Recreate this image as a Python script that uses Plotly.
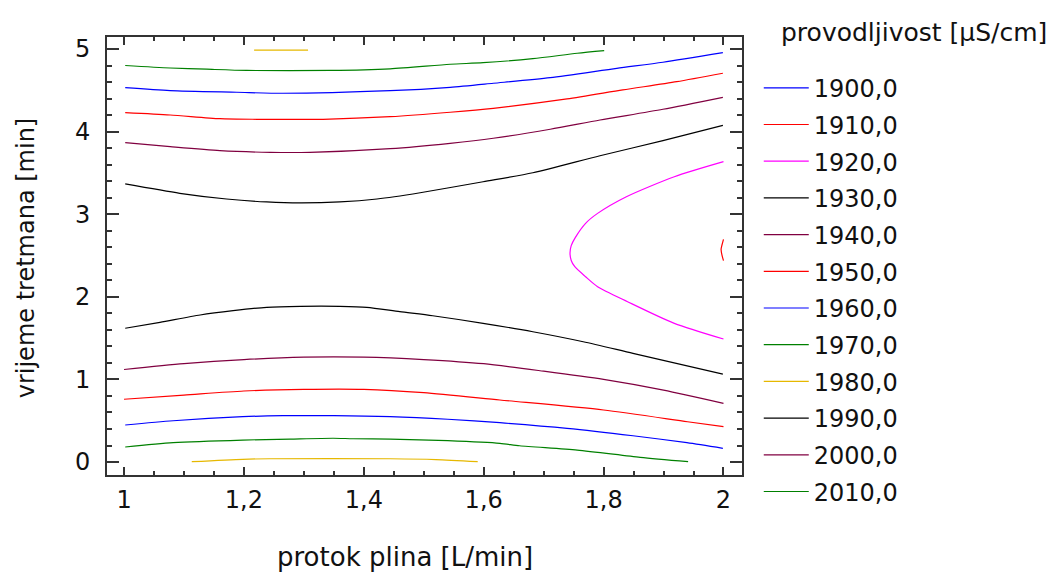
import plotly.graph_objects as go

# contour levels and colours (legend)
levels = [1900, 1910, 1920, 1930, 1940, 1950, 1960, 1970, 1980, 1990, 2000, 2010]
level_colors = ["#0000FF", "#FF0000", "#FF00FF", "#000000", "#800040", "#FF0000",
                "#0000FF", "#008000", "#E6B800", "#000000", "#800040", "#008000"]

# contour line segments: (x = protok plina, y = vrijeme tretmana)
c1910_x = [2.000, 1.9975, 1.996, 1.9975, 2.000]
c1910_y = [2.696, 2.627, 2.575, 2.506, 2.437]

c1920_x = [2.000, 1.918, 1.838, 1.790, 1.770, 1.753, 1.746, 1.744, 1.746, 1.752, 1.770, 1.790, 1.840, 1.918, 2.000]
c1920_y = [3.636, 3.454, 3.212, 3.010, 2.890, 2.720, 2.620, 2.530, 2.440, 2.364, 2.243, 2.122, 1.941, 1.679, 1.489]

c1930_up_x = [1.002, 1.093, 1.171, 1.238, 1.294, 1.360, 1.422, 1.494, 1.599, 1.682, 1.794, 1.899, 1.999]
c1930_up_y = [3.366, 3.253, 3.184, 3.148, 3.136, 3.148, 3.184, 3.260, 3.393, 3.502, 3.708, 3.890, 4.076]
c1930_lo_x = [1.002, 1.060, 1.127, 1.182, 1.238, 1.294, 1.360, 1.405, 1.460, 1.515, 1.599, 1.682, 1.766, 1.849, 1.999]
c1930_lo_y = [1.619, 1.691, 1.780, 1.832, 1.873, 1.885, 1.885, 1.873, 1.820, 1.771, 1.679, 1.577, 1.456, 1.316, 1.065]

c1940_up_x = [1.002, 1.077, 1.160, 1.244, 1.310, 1.444, 1.544, 1.616, 1.711, 1.794, 1.899, 1.999]
c1940_up_y = [3.866, 3.817, 3.769, 3.749, 3.749, 3.793, 3.858, 3.919, 4.028, 4.140, 4.270, 4.415]
c1940_lo_x = [1.000, 1.100, 1.200, 1.300, 1.400, 1.500, 1.600, 1.700, 1.800, 1.900, 2.000]
c1940_lo_y = [1.120, 1.190, 1.240, 1.270, 1.270, 1.240, 1.190, 1.100, 1.000, 0.870, 0.710]

c1950_up_x = [1.002, 1.077, 1.160, 1.221, 1.332, 1.444, 1.544, 1.616, 1.739, 1.832, 1.922, 1.999]
c1950_up_y = [4.229, 4.201, 4.156, 4.149, 4.149, 4.180, 4.234, 4.282, 4.395, 4.504, 4.604, 4.706]
c1950_lo_x = [1.000, 1.100, 1.200, 1.300, 1.400, 1.500, 1.627, 1.800, 1.940, 2.000]
c1950_lo_y = [0.760, 0.810, 0.860, 0.880, 0.880, 0.840, 0.751, 0.630, 0.488, 0.428]

c1960_up_x = [1.002, 1.077, 1.188, 1.265, 1.444, 1.544, 1.616, 1.711, 1.822, 1.899, 1.999]
c1960_up_y = [4.531, 4.495, 4.476, 4.464, 4.495, 4.536, 4.585, 4.653, 4.766, 4.839, 4.955]
c1960_lo_x = [1.002, 1.082, 1.198, 1.265, 1.350, 1.444, 1.540, 1.627, 1.739, 1.849, 1.939, 1.999]
c1960_lo_y = [0.448, 0.500, 0.549, 0.561, 0.562, 0.550, 0.518, 0.476, 0.408, 0.318, 0.234, 0.166]

c1970_up_x = [1.002, 1.077, 1.138, 1.205, 1.344, 1.444, 1.544, 1.599, 1.682, 1.756, 1.801]
c1970_up_y = [4.800, 4.770, 4.755, 4.740, 4.740, 4.760, 4.815, 4.834, 4.883, 4.948, 4.980]
c1970_lo_x = [1.002, 1.082, 1.198, 1.277, 1.349, 1.382, 1.444, 1.540, 1.627, 1.660, 1.756, 1.861, 1.941]
c1970_lo_y = [0.182, 0.234, 0.266, 0.278, 0.288, 0.282, 0.278, 0.258, 0.226, 0.197, 0.145, 0.057, 0.004]

c1980_up_x = [1.217, 1.307]
c1980_up_y = [4.985, 4.985]
c1980_lo_x = [1.113, 1.198, 1.243, 1.444, 1.520, 1.590]
c1980_lo_y = [0.004, 0.033, 0.040, 0.040, 0.030, 0.004]

x_ticks = [1, 1.2, 1.4, 1.6, 1.8, 2]
y_ticks = [0, 1, 2, 3, 4, 5]


def join(*segs):
    xs, ys = [], []
    for sx, sy in segs:
        if xs:
            xs.append(None)
            ys.append(None)
        xs += sx
        ys += sy
    return xs, ys


segments = {
    1910: [(c1910_x, c1910_y)],
    1920: [(c1920_x, c1920_y)],
    1930: [(c1930_up_x, c1930_up_y), (c1930_lo_x, c1930_lo_y)],
    1940: [(c1940_up_x, c1940_up_y), (c1940_lo_x, c1940_lo_y)],
    1950: [(c1950_up_x, c1950_up_y), (c1950_lo_x, c1950_lo_y)],
    1960: [(c1960_up_x, c1960_up_y), (c1960_lo_x, c1960_lo_y)],
    1970: [(c1970_up_x, c1970_up_y), (c1970_lo_x, c1970_lo_y)],
    1980: [(c1980_up_x, c1980_up_y), (c1980_lo_x, c1980_lo_y)],
}

FONT = "DejaVu Sans, Verdana, sans-serif"
TXT = "#111111"
fig = go.Figure()
for lev, col in zip(levels, level_colors):
    if lev in segments:
        xs, ys = join(*segments[lev])
    else:
        xs, ys = [None], [None]
    fig.add_trace(go.Scatter(
        x=xs, y=ys, mode="lines", name=f"{lev:.1f}".replace(".", ","),
        line=dict(color=col, width=1.2, shape="spline", smoothing=0.7),
        legendgroup=str(lev), hoverinfo="skip"))

axis_common = dict(
    showgrid=False, zeroline=False, showline=True, linecolor="#333333", linewidth=2,
    mirror="allticks", ticks="inside", tickcolor="#333333", tickwidth=2,
    tickfont=dict(family=FONT, size=24, color=TXT),
)

# page body adds an 8px offset, so the figure is 8px smaller than the window
fig.update_layout(
    width=1053, height=568,
    margin=dict(l=99, r=319, t=29, b=101),
    paper_bgcolor="white", plot_bgcolor="white",
    separators=", ",
    font=dict(family=FONT, size=24, color=TXT),
    xaxis=dict(range=[0.9716, 2.0309], tickvals=x_ticks, ticklen=8,
               minor=dict(dtick=0.05, tick0=1, ticklen=4, ticks="inside",
                          tickcolor="#333333", tickwidth=2),
               ticklabelstandoff=2, **axis_common),
    yaxis=dict(range=[-0.157, 5.145], tickvals=y_ticks, ticklen=12,
               minor=dict(dtick=0.2, tick0=0, ticklen=5, ticks="inside",
                          tickcolor="#333333", tickwidth=2),
               ticklabelstandoff=10, **axis_common),
    showlegend=True,
    legend=dict(x=1.0264, xanchor="left", y=0.9345, yanchor="top",
                font=dict(family=FONT, size=24, color=TXT),
                tracegroupgap=2.5, traceorder="grouped", itemwidth=45,
                maxheight=560,
                bgcolor="rgba(0,0,0,0)", borderwidth=0),
    annotations=[
        dict(text="protok plina [L/min]", x=0.469, y=-0.187, xref="paper", yref="paper",
             showarrow=False, xanchor="center", yanchor="middle",
             font=dict(family=FONT, size=26, color=TXT)),
        dict(text="vrijeme tretmana [min]", x=-0.1276, y=0.497, xref="paper", yref="paper",
             showarrow=False, textangle=-90, xanchor="center", yanchor="middle",
             font=dict(family=FONT, size=24, color=TXT)),
        dict(text="provodljivost [µS/cm]", x=1.058, y=1.0114, xref="paper", yref="paper",
             showarrow=False, xanchor="left", yanchor="middle",
             font=dict(family=FONT, size=25, color=TXT)),
    ],
)

fig.write_html("out.html")
